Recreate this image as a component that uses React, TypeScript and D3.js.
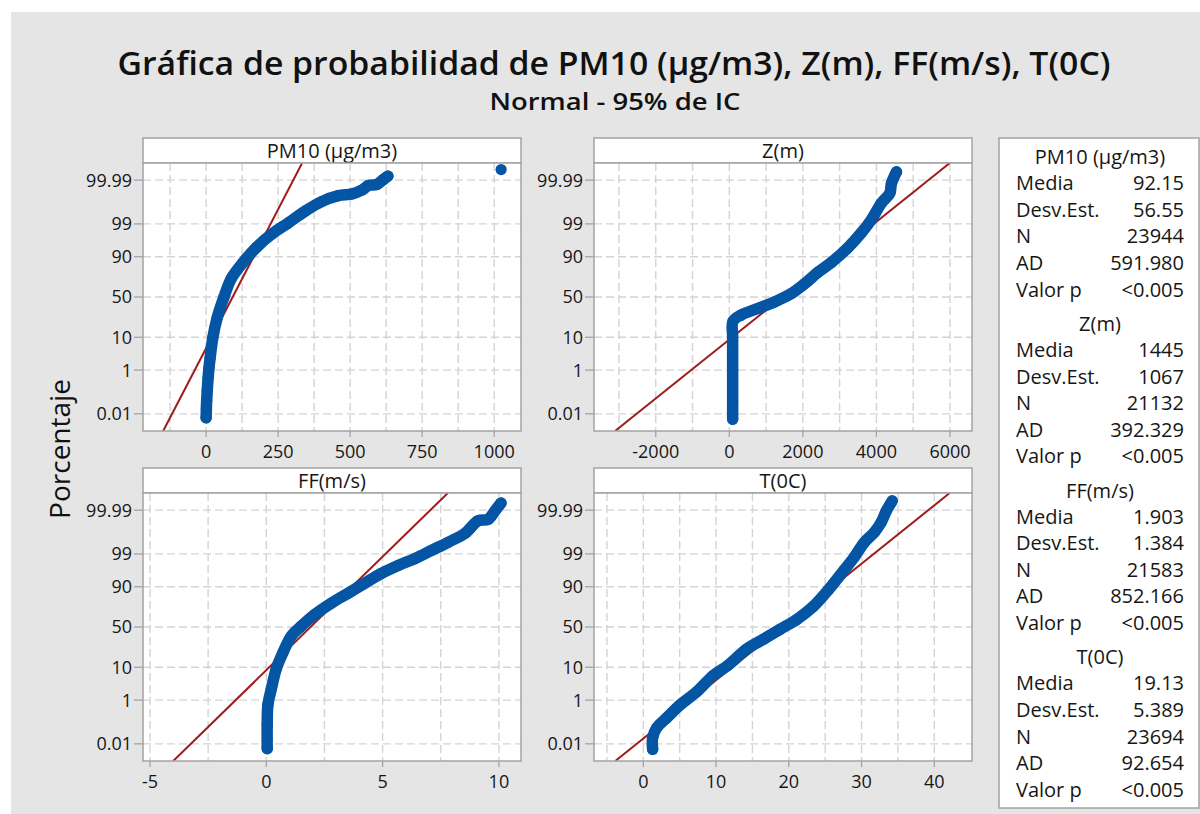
import React from "react";
import * as d3 from "d3";

// ---- Data -----------------------------------------------------------------
const panelTitles = ["PM10 (µg/m3)", "Z(m)", "FF(m/s)", "T(0C)"];

const percentTicks = [0.01, 1, 10, 50, 90, 99, 99.99];
const percentTickLabels = ["0.01", "1", "10", "50", "90", "99", "99.99"];

// Probability-plot points: observed value and cumulative percent
const pm10Value = [0, 1, 2, 4, 7, 10, 14, 23, 38, 62, 87, 128, 174, 227, 285, 343, 401, 459, 506, 541, 564, 593, 616, 631];
const pm10Percent = [0.006, 0.02, 0.05, 0.15, 0.5, 1.2, 2.6, 9.5, 25, 50, 72, 86.4, 94.2, 97.7, 99.08, 99.68, 99.88, 99.937, 99.948, 99.967, 99.981, 99.983, 99.991, 99.994];
const pm10OutlierValue = [1024];
const pm10OutlierPercent = [99.9975];

const zValue = [91, 91, 91, 91, 100, 318, 773, 1227, 1682, 2045, 2409, 2773, 3227, 3591, 3864, 4136, 4364, 4409, 4545];
const zPercent = [0.005, 0.05, 1, 10, 22, 28.2, 35.7, 43.8, 54.2, 66.2, 78.4, 86.4, 94.2, 97.95, 99.31, 99.86, 99.952, 99.985, 99.9966];

const ffValue = [0.04, 0.04, 0.07, 0.22, 0.43, 0.72, 1.08, 1.51, 2.08, 2.8, 3.52, 4.23, 4.95, 5.67, 6.38, 7.1, 7.82, 8.54, 9.11, 9.54, 9.83, 10.09];
const ffPercent = [0.0054, 0.094, 0.66, 2.5, 9.2, 21, 38.9, 51.2, 65.4, 77.7, 85.9, 91.8, 95.6, 97.5, 98.52, 99.26, 99.65, 99.856, 99.964, 99.97, 99.989, 99.996];

const tValue = [1.28, 1.28, 1.83, 3.21, 5.05, 7.34, 9.63, 11.6, 14.22, 16.51, 18.81, 21.1, 23.39, 25.5, 27.6, 29.0, 30.4, 31.75, 32.7, 33.4, 34.2];
const tPercent = [0.005, 0.021, 0.066, 0.19, 0.66, 1.97, 6.2, 11, 24.2, 34.9, 47.1, 59.5, 74.5, 88.5, 96.5, 98.7, 99.65, 99.87, 99.957, 99.989, 99.997];

// Summary statistics per variable
const statRowLabels = ["Media", "Desv.Est.", "N", "AD", "Valor p"];
const mediaText = ["92.15", "1445", "1.903", "19.13"];
const desvText = ["56.55", "1067", "1.384", "5.389"];
const nText = ["23944", "21132", "21583", "23694"];
const adText = ["591.980", "392.329", "852.166", "92.654"];
const pText = ["<0.005", "<0.005", "<0.005", "<0.005"];

// Axis ticks
const pm10Ticks = [0, 250, 500, 750, 1000];
const zTicks = [-2000, 0, 2000, 4000, 6000];
const ffTicks = [-5, 0, 5, 10];
const tTicks = [0, 10, 20, 30, 40];

// ---- Helpers --------------------------------------------------------------
// Inverse standard normal CDF (Acklam's rational approximation)
function probit(p: number): number {
  const a = [-3.969683028665376e1, 2.209460984245205e2, -2.759285104469687e2, 1.38357751867269e2, -3.066479806614716e1, 2.506628277459239];
  const b = [-5.447609879822406e1, 1.615858368580409e2, -1.556989798598866e2, 6.680131188771972e1, -1.328068155922803e1];
  const c = [-7.784894002430293e-3, -3.223964580411365e-1, -2.400758277161838, -2.549732539343734, 4.374664141464968, 2.938163982698783];
  const d = [7.784695709041462e-3, 3.224671290700398e-1, 2.445134137142996, 3.754408661907416];
  const plow = 0.02425;
  if (p < plow) {
    const q = Math.sqrt(-2 * Math.log(p));
    return (((((c[0] * q + c[1]) * q + c[2]) * q + c[3]) * q + c[4]) * q + c[5]) / ((((d[0] * q + d[1]) * q + d[2]) * q + d[3]) * q + 1);
  }
  if (p <= 1 - plow) {
    const q = p - 0.5;
    const r = q * q;
    return ((((((a[0] * r + a[1]) * r + a[2]) * r + a[3]) * r + a[4]) * r + a[5]) * q) / (((((b[0] * r + b[1]) * r + b[2]) * r + b[3]) * r + b[4]) * r + 1);
  }
  const q = Math.sqrt(-2 * Math.log(1 - p));
  return -(((((c[0] * q + c[1]) * q + c[2]) * q + c[3]) * q + c[4]) * q + c[5]) / ((((d[0] * q + d[1]) * q + d[2]) * q + d[3]) * q + 1);
}

const FONT = "'Open Sans', 'Noto Sans', sans-serif";
const BLUE = "#0555a5";
const RED = "#9e1b1b";
const GRID = "#d4d4d4";
const FRAME = "#a3a3a3";
const TEXT = "#161616";
const Z_LIMIT = 4.265;

type PanelSpec = {
  title: string;
  values: number[];
  percents: number[];
  extraValues?: number[];
  extraPercents?: number[];
  domain: [number, number];
  ticks: number[];
  gridStep: number;
  mean: number;
  sd: number;
  left: number;
  top: number;
};

const PANEL_W = 378;
const HEADER_H = 25;
const PLOT_H = 268;

function Panel({ spec, idx }: { spec: PanelSpec; idx: number }) {
  const x0 = spec.left;
  const x1 = spec.left + PANEL_W;
  const yTop = spec.top + HEADER_H;
  const yBot = yTop + PLOT_H;
  const x = d3.scaleLinear().domain(spec.domain).range([x0, x1]);
  const y = d3.scaleLinear().domain([-Z_LIMIT, Z_LIMIT]).range([yBot, yTop]);

  const gridXs = d3
    .range(Math.ceil(spec.domain[0] / spec.gridStep) * spec.gridStep, spec.domain[1], spec.gridStep)
    .filter((v) => x(v) > x0 + 3 && x(v) < x1 - 3);

  const pts: [number, number][] = spec.values.map((v, i) => [x(v), y(probit(spec.percents[i] / 100))]);
  const line = d3.line().curve(d3.curveCatmullRom.alpha(0.5));
  const bandPath = line(pts) || "";

  const fitPts: [number, number][] = [-Z_LIMIT, Z_LIMIT].map((z) => [x(spec.mean + z * spec.sd), y(z)]);
  const clipId = `plotclip-${idx}`;

  return (
    <g>
      <defs>
        <clipPath id={clipId}>
          <rect x={x0} y={yTop} width={PANEL_W} height={PLOT_H} />
        </clipPath>
      </defs>
      {/* header strip */}
      <rect x={x0} y={spec.top} width={PANEL_W} height={HEADER_H} fill="#ffffff" stroke={FRAME} strokeWidth={1.5} />
      <text x={(x0 + x1) / 2} y={spec.top + 19.5} textAnchor="middle" fontFamily={FONT} fontSize={20} fontWeight={500} fill={TEXT}>
        {spec.title}
      </text>
      {/* plot area */}
      <rect x={x0} y={yTop} width={PANEL_W} height={PLOT_H} fill="#ffffff" />
      {gridXs.map((v) => (
        <line key={`gx${v}`} x1={x(v)} x2={x(v)} y1={yTop} y2={yBot} stroke={GRID} strokeWidth={1.4} strokeDasharray="8,4" />
      ))}
      {percentTicks.map((p) => (
        <line key={`gy${p}`} x1={x0} x2={x1} y1={y(probit(p / 100))} y2={y(probit(p / 100))} stroke={GRID} strokeWidth={1.4} strokeDasharray="8,4" />
      ))}
      <g clipPath={`url(#${clipId})`}>
        <line x1={fitPts[0][0]} y1={fitPts[0][1]} x2={fitPts[1][0]} y2={fitPts[1][1]} stroke={RED} strokeWidth={2} />
        <path d={bandPath} fill="none" stroke={BLUE} strokeWidth={11.5} strokeLinecap="round" strokeLinejoin="round" />
        {pts.map((p, i) => (
          <circle key={`pt${i}`} cx={p[0]} cy={p[1]} r={5.6} fill={BLUE} />
        ))}
        {(spec.extraValues || []).map((v, i) => (
          <circle key={`ex${i}`} cx={x(v)} cy={y(probit((spec.extraPercents as number[])[i] / 100))} r={5.6} fill={BLUE} />
        ))}
      </g>
      <rect x={x0} y={yTop} width={PANEL_W} height={PLOT_H} fill="none" stroke={FRAME} strokeWidth={1.5} />
      {/* y axis */}
      {percentTicks.map((p, i) => (
        <g key={`yt${p}`}>
          <line x1={x0 - 9} x2={x0} y1={y(probit(p / 100))} y2={y(probit(p / 100))} stroke={FRAME} strokeWidth={1.3} />
          <text x={x0 - 11} y={y(probit(p / 100))} dy="0.36em" textAnchor="end" fontFamily={FONT} fontSize={18} fontWeight={500} fill={TEXT}>
            {percentTickLabels[i]}
          </text>
        </g>
      ))}
      {/* x axis */}
      {spec.ticks.map((v) => (
        <g key={`xt${v}`}>
          <line x1={x(v)} x2={x(v)} y1={yBot} y2={yBot + 6} stroke={FRAME} strokeWidth={1.3} />
          <text x={x(v)} y={yBot + 21} dy="0.36em" textAnchor="middle" fontFamily={FONT} fontSize={18} fontWeight={500} fill={TEXT}>
            {String(v)}
          </text>
        </g>
      ))}
    </g>
  );
}

export default function App() {
  const specs: PanelSpec[] = [
    { title: panelTitles[0], values: pm10Value, percents: pm10Percent, extraValues: pm10OutlierValue, extraPercents: pm10OutlierPercent, domain: [-219, 1093], ticks: pm10Ticks, gridStep: 125, mean: +mediaText[0], sd: +desvText[0], left: 143, top: 138 },
    { title: panelTitles[1], values: zValue, percents: zPercent, domain: [-3679, 6599], ticks: zTicks, gridStep: 1000, mean: +mediaText[1], sd: +desvText[1], left: 594, top: 138 },
    { title: panelTitles[2], values: ffValue, percents: ffPercent, domain: [-5.3, 10.95], ticks: ffTicks, gridStep: 2.5, mean: +mediaText[2], sd: +desvText[2], left: 143, top: 468 },
    { title: panelTitles[3], values: tValue, percents: tPercent, domain: [-6.78, 45.18], ticks: tTicks, gridStep: 5, mean: +mediaText[3], sd: +desvText[3], left: 594, top: 468 },
  ];

  const statValues = [mediaText, desvText, nText, adText, pText];

  return (
    <svg width={1200} height={814} style={{ position: "absolute", left: 0, top: 0, display: "block" }}>
      <rect x={0} y={0} width={1200} height={814} fill="#ffffff" />
      <rect x={11} y={12} width={1189} height={802} fill="#e5e5e5" />
      <text x={614} y={75} textAnchor="middle" fontFamily={FONT} fontSize={32} fontWeight={600} fill="#111" textLength={993} lengthAdjust="spacingAndGlyphs">
        Gráfica de probabilidad de PM10 (µg/m3), Z(m), FF(m/s), T(0C)
      </text>
      <text x={615} y={110} textAnchor="middle" fontFamily={FONT} fontSize={23} fontWeight={600} fill="#111" textLength={251} lengthAdjust="spacingAndGlyphs">
        Normal - 95% de IC
      </text>
      <text transform="translate(70,449) rotate(-90)" textAnchor="middle" fontFamily={FONT} fontSize={28} fontWeight={500} fill="#111">
        Porcentaje
      </text>
      {specs.map((s, i) => (
        <Panel key={i} spec={s} idx={i} />
      ))}
      {/* statistics table */}
      <rect x={999} y={138} width={200} height={670} fill="#ffffff" stroke={FRAME} strokeWidth={1.5} />
      {panelTitles.map((t, g) => {
        const hy = 157 + g * 166.7;
        return (
          <g key={`st${g}`}>
            <text x={1100} y={hy} dy="0.36em" textAnchor="middle" fontFamily={FONT} fontSize={20} fontWeight={500} fill={TEXT}>
              {t}
            </text>
            {statRowLabels.map((lab, r) => (
              <g key={`sr${r}`}>
                <text x={1016} y={hy + 26 + r * 26.6} dy="0.36em" fontFamily={FONT} fontSize={20} fontWeight={500} fill={TEXT}>
                  {lab}
                </text>
                <text x={1184} y={hy + 26 + r * 26.6} dy="0.36em" textAnchor="end" fontFamily={FONT} fontSize={20} fontWeight={500} fill={TEXT}>
                  {statValues[r][g]}
                </text>
              </g>
            ))}
          </g>
        );
      })}
    </svg>
  );
}
